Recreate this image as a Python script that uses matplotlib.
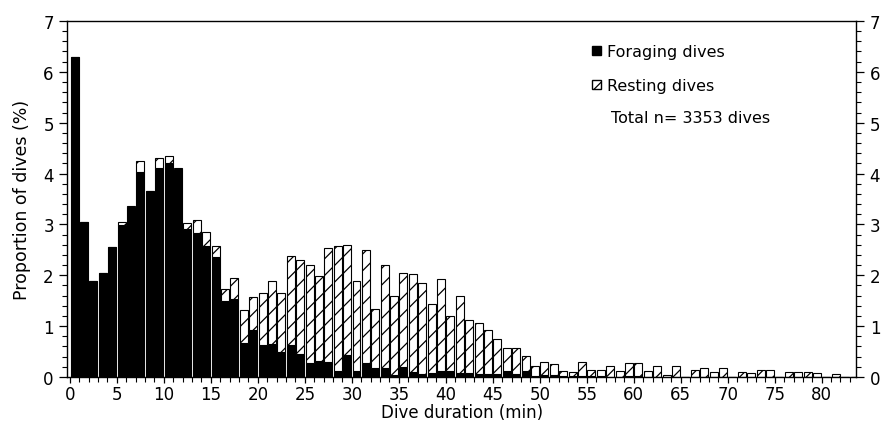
"""Dive duration histogram: foraging vs resting dives."""
import matplotlib.pyplot as plt
import numpy as np
from matplotlib.patches import Patch
from matplotlib.ticker import MultipleLocator

plt.rcParams['font.family'] = ['DejaVu Sans']
plt.rcParams['hatch.linewidth'] = 0.9

# proportion of dives (%) per 1-min duration class, 0..83 min
total = [6.30, 3.05, 1.89, 2.04, 2.55, 3.05, 3.36, 4.24, 3.66, 4.30,
         4.35, 4.10, 3.02, 3.08, 2.86, 2.58, 1.73, 1.95, 1.32, 1.58,
         1.66, 1.88, 1.66, 2.37, 2.30, 2.20, 1.99, 2.53, 2.58, 2.60,
         1.89, 2.50, 1.34, 2.20, 1.60, 2.04, 2.02, 1.84, 1.43, 1.93,
         1.19, 1.60, 1.13, 1.06, 0.93, 0.75, 0.57, 0.57, 0.42, 0.22,
         0.29, 0.26, 0.12, 0.10, 0.29, 0.14, 0.14, 0.21, 0.12, 0.27,
         0.27, 0.12, 0.22, 0.04, 0.22, 0.00, 0.14, 0.18, 0.10, 0.18,
         0.00, 0.10, 0.07, 0.14, 0.14, 0.00, 0.10, 0.10, 0.10, 0.07,
         0.00, 0.05, 0.00, 0.00]
foraging = [6.30, 3.05, 1.89, 2.04, 2.55, 2.99, 3.34, 4.03, 3.66, 4.10,
            4.20, 4.08, 2.90, 2.83, 2.58, 2.36, 1.50, 1.54, 0.67, 0.92,
            0.63, 0.65, 0.49, 0.62, 0.45, 0.28, 0.31, 0.30, 0.12, 0.43,
            0.12, 0.28, 0.17, 0.17, 0.04, 0.19, 0.10, 0.05, 0.08, 0.12,
            0.12, 0.08, 0.08, 0.05, 0.05, 0.05, 0.12, 0.05, 0.12, 0.02,
            0.03, 0.03, 0.02, 0.02, 0.02, 0.02, 0.02, 0.00, 0.00, 0.02,
            0.02, 0.00, 0.00, 0.00, 0.00, 0.00, 0.00, 0.00, 0.00, 0.00,
            0.00, 0.00, 0.00, 0.00, 0.00, 0.00, 0.00, 0.00, 0.00, 0.00,
            0.00, 0.00, 0.00, 0.00]
xticks = list(range(0, 81, 5))
minutes = np.arange(len(total))
resting = np.array(total) - np.array(foraging)

fig = plt.figure(figsize=(8.88, 4.39), dpi=100)
ax = fig.add_axes([0.0755, 0.139, 0.889, 0.811])

x = minutes + 0.5
ax.bar(x, foraging, width=0.85, color='black', edgecolor='black', linewidth=0.8)
ax.bar(x, resting, width=0.85, bottom=foraging, color='white',
       edgecolor='black', linewidth=0.8, hatch='//')

ax.set_xlim(-0.3, 83.7)
ax.set_ylim(0, 7)
ax.set_xticks(xticks)
ax.set_xticklabels([str(v) for v in xticks])
ax.xaxis.set_minor_locator(MultipleLocator(1))
ax.yaxis.set_major_locator(MultipleLocator(1))
ax.yaxis.set_minor_locator(MultipleLocator(0.2))

ax.tick_params(axis='both', which='major', direction='out', width=0.9,
               labelsize=12, colors='black')
ax.tick_params(axis='x', which='major', length=4.5, pad=1)
ax.tick_params(axis='y', which='major', length=6, pad=3.5)
ax.tick_params(axis='both', which='minor', direction='out', length=3.5, width=0.8)
ax.tick_params(axis='y', which='both', right=True, labelright=True)
for s in ax.spines.values():
    s.set_linewidth(1.0)

ax.set_xlabel('Dive duration (min)', fontsize=12, labelpad=0)
ax.set_ylabel('Proportion of dives (%)', fontsize=12.5, labelpad=9)

handles = [Patch(facecolor='black', edgecolor='black'),
           Patch(facecolor='white', edgecolor='black', hatch='//')]
labels = ['Foraging dives', 'Resting dives']
ax.legend(handles, labels, loc='upper left', bbox_to_anchor=(0.665, 0.935),
          frameon=False, fontsize=11.5, handlelength=0.55, handleheight=0.55,
          handletextpad=0.4, labelspacing=1.2, borderaxespad=0, borderpad=0)
ax.text(0.689, 0.7275, 'Total n= 3353 dives', transform=ax.transAxes,
        fontsize=11.5, va='center', ha='left')

fig.savefig('out.png', dpi=100)
